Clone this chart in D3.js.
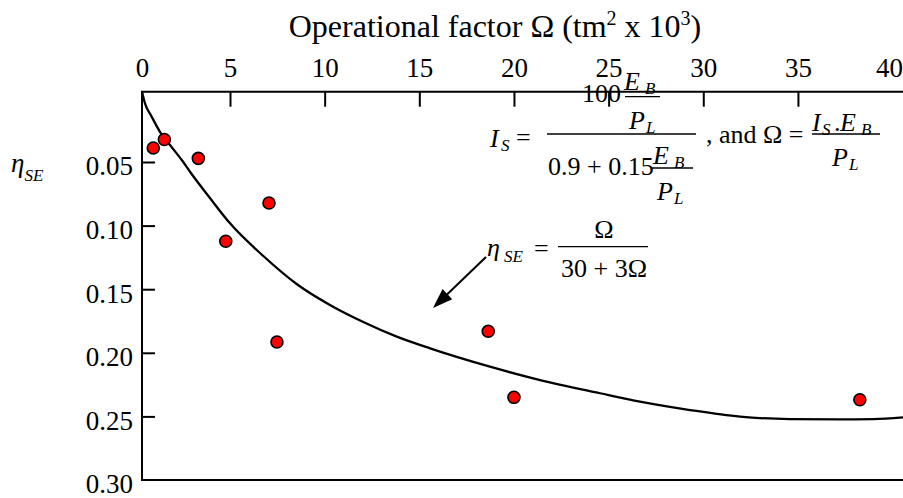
<!DOCTYPE html>
<html><head><meta charset="utf-8">
<script src="https://cdn.jsdelivr.net/npm/d3@7"></script>
<style>
body{margin:0;background:#fff}
svg{display:block}
svg text{font-family:"Liberation Serif","Tinos","Times New Roman","DejaVu Serif","Noto Serif",serif}
</style></head>
<body><svg id="c" width="903" height="498"></svg>
<script>
// ---- data ----
const pointOmega = [0.64, 1.27, 3.2, 7.06, 4.76, 7.48, 18.64, 20.0, 38.27];
const pointEta   = [0.040, 0.034, 0.0474, 0.0822, 0.1123, 0.1915, 0.1831, 0.235, 0.2369];
const curveOmega = [0, 0.17, 0.55, 1.02, 1.59, 2.26, 2.82, 3.86, 5.0, 6.76, 8.52, 10.28, 12.04, 13.81, 15.57, 18.73, 21.38, 24.55, 26.66, 29.30, 31.94, 34.58, 37.22, 38.98, 40.55];
const curveEta   = [0, 0.0083, 0.0178, 0.0285, 0.0379, 0.0486, 0.0594, 0.0783, 0.0982, 0.1239, 0.1459, 0.1624, 0.1758, 0.1873, 0.1965, 0.2109, 0.2214, 0.2318, 0.2384, 0.2450, 0.2502, 0.2521, 0.2523, 0.2521, 0.2508];
const xTickLabels = [0, 5, 10, 15, 20, 25, 30, 35, 40];
const xTickMarks  = [5, 10, 15, 20, 25, 30, 35];
const yTickLabels = [0.05, 0.10, 0.15, 0.20, 0.25, 0.30];
const yTickMarks  = [0.05, 0.10, 0.15, 0.20, 0.25];

const FONT = '"Liberation Serif","Tinos","Times New Roman","DejaVu Serif","Noto Serif",serif';
const svg = d3.select("#c");
const x = d3.scaleLinear().domain([0, 5, 40.55]).range([142, 230, 903]);
const y = d3.scaleLinear().domain([0, 0.05, 0.30]).range([91.7, 162, 480]);

// frame
svg.append("path").attr("fill", "none").attr("stroke", "#000").attr("stroke-width", 2)
  .attr("d", `M${x(40.55)},${y(0)}H${x(0)}V${y(0.30)}H${x(40.55)}`);

// x axis (top)
svg.append("g").attr("transform", `translate(0,${y(0)})`)
  .call(d3.axisTop(x).tickValues(xTickMarks).tickSize(-15).tickFormat(""))
  .call(g => { g.select(".domain").remove(); g.selectAll("line").attr("stroke-width", 2); });
svg.append("g").attr("transform", `translate(0,${y(0)})`)
  .call(d3.axisTop(x).tickValues(xTickLabels).tickSize(0).tickPadding(14.5).tickFormat(d3.format("d")))
  .call(g => { g.attr("font-family", FONT).attr("font-size", 27);
    g.select(".domain").remove(); g.selectAll("line").remove();
    g.selectAll("text").attr("fill", "#000").attr("dx", d => d === 40 ? -3.5 : 0); });

// y axis (left)
svg.append("g").attr("transform", `translate(${x(0)},0)`)
  .call(d3.axisLeft(y).tickValues(yTickMarks).tickSize(-13).tickFormat(""))
  .call(g => { g.select(".domain").remove(); g.selectAll("line").attr("stroke-width", 2); });
svg.append("g").attr("transform", `translate(${x(0)},0)`)
  .call(d3.axisLeft(y).tickValues(yTickLabels).tickSize(0).tickPadding(9).tickFormat(d3.format(".2f")))
  .call(g => { g.attr("font-family", FONT).attr("font-size", 27);
    g.select(".domain").remove(); g.selectAll("line").remove();
    g.selectAll("text").attr("fill", "#000").attr("dy", "0.48em"); });

// curve
const curveData = curveOmega.map((o, i) => [o, curveEta[i]]);
svg.append("path").datum(curveData)
  .attr("fill", "none").attr("stroke", "#000").attr("stroke-width", 2.3)
  .attr("d", d3.line().x(d => x(d[0])).y(d => y(d[1])).curve(d3.curveMonotoneX));

// points
const pts = pointOmega.map((o, i) => [o, pointEta[i]]);
svg.append("g").selectAll("circle").data(pts).join("circle")
  .attr("cx", d => x(d[0])).attr("cy", d => y(d[1])).attr("r", 6)
  .attr("fill", "#ff0000").attr("stroke", "#000").attr("stroke-width", 1.6);

// title
const title = svg.append("text").attr("x", 495).attr("y", 37).attr("text-anchor", "middle").attr("font-size", 32);
title.append("tspan").text("Operational factor Ω (tm");
title.append("tspan").attr("font-size", 20).attr("dy", -12).text("2");
title.append("tspan").attr("dy", 12).text(" x 10");
title.append("tspan").attr("font-size", 20).attr("dy", -12).text("3");
title.append("tspan").attr("dy", 12).text(")");

// y axis label
const yl = svg.append("text").attr("x", 11).attr("y", 172).attr("font-size", 27).attr("font-style", "italic");
yl.append("tspan").text("η");
yl.append("tspan").attr("font-size", 17).attr("dy", 9).text("SE");

// helpers for formula
function t(xp, yp, str, opts = {}) {
  return svg.append("text").attr("x", xp).attr("y", yp)
    .attr("font-size", opts.size || 26)
    .attr("font-style", opts.italic ? "italic" : "normal")
    .attr("text-anchor", opts.anchor || "start").text(str);
}
function bar(x1, x2, yp) {
  svg.append("line").attr("x1", x1).attr("x2", x2).attr("y1", yp).attr("y2", yp)
    .attr("stroke", "#000").attr("stroke-width", 1.3);
}

// Formula 1: I_S = 100 (E_B/P_L) / (0.9 + 0.15 E_B/P_L)
t(490, 147, "I", {italic: true});
t(501, 151, "S", {italic: true, size: 17});
t(516, 146, "=");
bar(547, 696, 134);
t(582, 102, "100");
t(624, 90, "E", {italic: true});
t(645, 94, "B", {italic: true, size: 17});
bar(625, 660, 96.7);
t(629, 129, "P", {italic: true});
t(646, 133, "L", {italic: true, size: 17});
t(548, 175, "0.9 + 0.15");
t(653, 164, "E", {italic: true});
t(674, 168, "B", {italic: true, size: 17});
bar(652, 693, 168);
t(657, 200, "P", {italic: true});
t(674, 204, "L", {italic: true, size: 17});
t(706, 143, ", and Ω =");
// Ω = I_S.E_B / P_L
t(812, 131, "I", {italic: true});
t(822, 135, "S", {italic: true, size: 17});
t(834, 131, ".");
t(840, 131, "E", {italic: true});
t(861, 135, "B", {italic: true, size: 17});
bar(812, 880, 134);
t(832, 166, "P", {italic: true});
t(849, 170, "L", {italic: true, size: 17});

// Formula 2: η_SE = Ω / (30 + 3Ω)
t(487, 256, "η", {italic: true});
t(504, 262, "SE", {italic: true, size: 17});
t(534, 257, "=");
t(604, 238, "Ω", {anchor: "middle"});
bar(558, 648, 246.7);
t(604, 277, "30 + 3Ω", {anchor: "middle"});

// arrow
const ax1 = 486, ay1 = 257, ax2 = 433, ay2 = 308;
const ang = Math.atan2(ay2 - ay1, ax2 - ax1);
svg.append("line").attr("x1", ax1).attr("y1", ay1)
  .attr("x2", ax2 - 14 * Math.cos(ang)).attr("y2", ay2 - 14 * Math.sin(ang))
  .attr("stroke", "#000").attr("stroke-width", 2);
const hl = 20, hw = 7;
const bx = ax2 - hl * Math.cos(ang), by = ay2 - hl * Math.sin(ang);
svg.append("path").attr("fill", "#000")
  .attr("d", `M${ax2},${ay2}L${bx + hw * Math.sin(ang)},${by - hw * Math.cos(ang)}L${bx - hw * Math.sin(ang)},${by + hw * Math.cos(ang)}Z`);
</script></body></html>
